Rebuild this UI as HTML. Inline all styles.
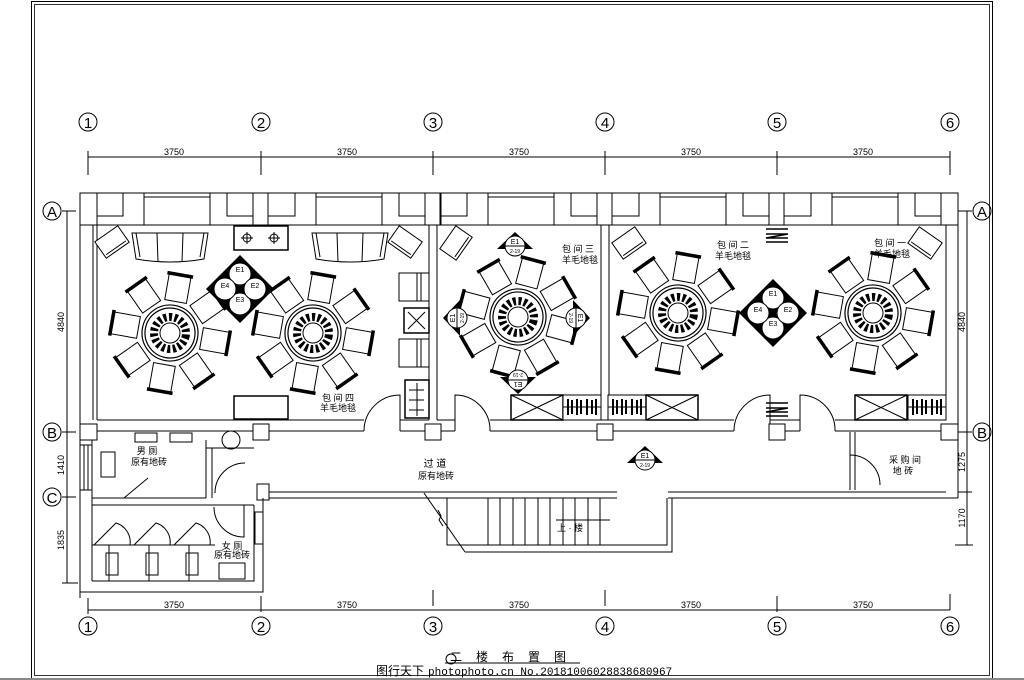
<!DOCTYPE html>
<html><head><meta charset="utf-8"><style>
html,body{margin:0;padding:0;background:#fff;}
svg{display:block;font-family:"Liberation Sans","Noto Sans CJK SC",sans-serif;}
</style></head><body>
<svg width="1024" height="680" viewBox="0 0 1024 680" xmlns="http://www.w3.org/2000/svg">
<defs>
<g id="chair">
 <rect x="-11" y="-58" width="22" height="26" fill="#fff" stroke="#000" stroke-width="1"/>
 <line x1="-13" y1="-59" x2="13" y2="-59" stroke="#000" stroke-width="3.5"/>
</g>
<g id="tbl">
 <use href="#chair" transform="rotate(0)"/><use href="#chair" transform="rotate(45)"/>
 <use href="#chair" transform="rotate(90)"/><use href="#chair" transform="rotate(135)"/>
 <use href="#chair" transform="rotate(180)"/><use href="#chair" transform="rotate(225)"/>
 <use href="#chair" transform="rotate(270)"/><use href="#chair" transform="rotate(315)"/>
 <circle r="28" fill="#fff" stroke="#000" stroke-width="1.2"/>
 <circle r="25" fill="none" stroke="#000" stroke-width="1.2"/>
 <circle r="16" fill="none" stroke="#000" stroke-width="8" stroke-dasharray="3 2.5"/>
 <circle r="10" fill="#fff" stroke="#000" stroke-width="1"/>
</g>
<g id="dia">
 <polygon points="0,-34 34,0 0,34 -34,0" fill="#000"/>
 <circle cx="0" cy="-15" r="11" fill="#fff" stroke="#000"/>
 <circle cx="0" cy="15" r="11" fill="#fff" stroke="#000"/>
 <circle cx="-15" cy="0" r="11" fill="#fff" stroke="#000"/>
 <circle cx="15" cy="0" r="11" fill="#fff" stroke="#000"/>
 <text x="0" y="-17" font-size="7" text-anchor="middle">E1</text>
 <text x="0" y="13" font-size="7" text-anchor="middle">E3</text>
 <text x="-15" y="-1" font-size="7" text-anchor="middle">E4</text>
 <text x="15" y="-1" font-size="7" text-anchor="middle">E2</text>
</g>
<g id="tri">
 <polygon points="0,-14 18,3 -18,3" fill="#000"/>
 <circle r="10" fill="#fff" stroke="#000"/>
 <line x1="-10" y1="0" x2="10" y2="0" stroke="#000"/>
 <text x="0" y="-2" font-size="7" text-anchor="middle">E1</text>
 <text x="0" y="7" font-size="5" text-anchor="middle">2-19</text>
</g>
<g id="armchair">
 <rect x="-14" y="-10" width="28" height="20" fill="#fff" stroke="#000"/>
 <line x1="-12" y1="7" x2="12" y2="7" stroke="#000"/>
</g>
<g id="sofa">
 <path d="M-38,-12 L38,-12 L34,14 Q0,20 -34,14 Z" fill="#fff" stroke="#000"/>
 <line x1="-13" y1="-12" x2="-12" y2="17" stroke="#000"/>
 <line x1="13" y1="-12" x2="12" y2="17" stroke="#000"/>
 <path d="M-34,-12 L-30,12 M34,-12 L30,12" stroke="#000" fill="none"/>
</g>
<g id="cab">
 <rect x="0" y="0" width="52" height="25" fill="#fff" stroke="#000" stroke-width="1.5"/>
 <path d="M0,0 L52,25 M52,0 L0,25" stroke="#000"/>
</g>
<g id="hang">
 <rect x="0" y="0" width="38" height="25" fill="#fff" stroke="#000"/>
 <line x1="0" y1="12" x2="38" y2="12" stroke="#000"/>
 <path d="M5,4v16M9,5v14M14,4v16M18,5v14M24,4v16M29,5v14M33,4v16" stroke="#000" stroke-width="2"/>
</g>
</defs>

<g fill="none" stroke="#000" stroke-width="1">
<rect x="31.5" y="1.5" width="961" height="677"/>
<rect x="34.5" y="4.5" width="955" height="671" stroke-width="0.8"/>
<g font-size="15">
<circle cx="88" cy="122" r="9"/><circle cx="261" cy="122" r="9"/><circle cx="433" cy="122" r="9"/>
<circle cx="605" cy="122" r="9"/><circle cx="777" cy="122" r="9"/><circle cx="950" cy="122" r="9"/>
<circle cx="88" cy="626" r="9"/><circle cx="261" cy="626" r="9"/><circle cx="433" cy="626" r="9"/>
<circle cx="605" cy="626" r="9"/><circle cx="777" cy="626" r="9"/><circle cx="950" cy="626" r="9"/>
<circle cx="52" cy="211" r="9"/><circle cx="52" cy="432" r="9"/><circle cx="52" cy="497" r="9"/>
<circle cx="982" cy="211" r="9"/><circle cx="982" cy="432" r="9"/>
</g>
<line x1="88" y1="157" x2="950" y2="157"/>
<path d="M88,151v24M261,151v24M433,151v24M605,151v24M777,151v24M950,151v24"/>
<line x1="88" y1="610" x2="950" y2="610"/>
<path d="M88,598v16M261,596v16M433,590v16M605,590v16M777,596v16M950,594v16"/>
<line x1="67" y1="211" x2="67" y2="583"/>
<path d="M62,211h14M62,432h14M62,497h14M62,583h16"/>
<line x1="967" y1="211" x2="967" y2="545"/>
<path d="M958,211h14M958,432h14M958,492h14M955,545h18"/>
<line x1="80" y1="193" x2="958" y2="193"/>
<line x1="97" y1="225" x2="946" y2="225"/>
<line x1="80" y1="193" x2="80" y2="598"/>
<line x1="958" y1="193" x2="958" y2="498"/>
<line x1="946" y1="225" x2="946" y2="420"/>
<line x1="93" y1="225" x2="93" y2="420"/>
<line x1="97" y1="225" x2="97" y2="420"/>
</g>

<g fill="#fff" stroke="#000" stroke-width="1">
<g>
 <rect x="80" y="193" width="17" height="32"/>
 <rect x="97" y="193" width="26" height="23"/>
 <rect x="144" y="193" width="66" height="32"/>
 <rect x="227" y="193" width="26" height="23"/>
</g>
<rect x="253" y="193" width="15" height="32"/>
<g transform="translate(172,0)"><rect x="96" y="193" width="27" height="23"/><rect x="144" y="193" width="66" height="32"/><rect x="227" y="193" width="26" height="23"/><rect x="253" y="193" width="15" height="32"/></g>
<g transform="translate(344,0)"><rect x="96" y="193" width="27" height="23"/><rect x="144" y="193" width="66" height="32"/><rect x="227" y="193" width="26" height="23"/><rect x="253" y="193" width="15" height="32"/></g>
<g transform="translate(516,0)"><rect x="96" y="193" width="27" height="23"/><rect x="144" y="193" width="66" height="32"/><rect x="227" y="193" width="26" height="23"/><rect x="253" y="193" width="15" height="32"/></g>
<g transform="translate(688,0)"><rect x="96" y="193" width="27" height="23"/><rect x="144" y="193" width="66" height="32"/><rect x="227" y="193" width="26" height="23"/></g>
<rect x="941" y="193" width="17" height="32"/>
</g>
<g stroke="#000" stroke-width="1" fill="none">
<path d="M144,197h66M316,197h66M488,197h66M660,197h66M832,197h66"/>
<path d="M425,193v32M441,193v32"/>
<path d="M429,225v195M437,225v195M601,225v195M609,225v195"/>
<path d="M97,420H364M400,420H429M437,420H455M490,420H734M770,420H800M835,420H946"/>
<path d="M80,431H364M400,431H455M490,431H734M770,431H800M835,431H958"/>
<path d="M364,431 A36,36 0 0 1 400,395 V431"/>
<path d="M455,431 V395 A35,35 0 0 1 490,431"/>
<path d="M734,431 A36,36 0 0 1 770,395 V431"/>
<path d="M800,431 V395 A35,35 0 0 1 835,431"/>
<path d="M263,492H617M668,492H946M263,498H617M668,498H958"/>
<path d="M850,432V490M855,432V490"/>
<path d="M850,455 A30,30 0 0 1 880,485 M850,455V490"/>
</g>
<g fill="#fff" stroke="#000">
<rect x="425" y="424" width="16" height="16"/><rect x="597" y="424" width="16" height="16"/>
<rect x="769" y="424" width="16" height="16"/><rect x="253" y="424" width="16" height="16"/>
<rect x="941" y="424" width="17" height="16"/><rect x="80" y="424" width="17" height="16"/>
<rect x="257" y="484" width="12" height="16"/>
</g>

<g stroke="#000" fill="none">
<path d="M447,498V545H667V498"/>
<path d="M465,552H672V498"/>
<path d="M424,493L465,552"/>
<path d="M438,510l3,6l-2,4l4,6"/>
<path d="M488,498v47M500,498v47M513,498v47M525,498v47M538,498v47M550,498v47M563,498v47M575,498v47M588,498v47M600,498v47"/>
<path d="M556,520H610"/>
</g>
<text x="570" y="531" font-size="9" text-anchor="middle">上 · 楼</text>

<g stroke="#000" fill="none">
<path d="M80,592H263V498"/>
<path d="M92,581H254V505"/>
<path d="M92,440V581"/>
<path d="M92,498H206M92,505H254"/>
<path d="M206,440V498M212,448V498"/>
<path d="M206,448H254"/>
<rect x="80" y="445" width="12" height="45" fill="#fff"/>
<path d="M84,445v45M88,445v45"/>
<rect x="101" y="452" width="14" height="25"/>
<rect x="135" y="433" width="22" height="9"/><rect x="170" y="433" width="22" height="9"/>
<circle cx="231" cy="440" r="9"/>
<path d="M124,498L148,478M215,493 A30,30 0 0 1 245,463"/>
<path d="M109,545V581M149,545V581M189,545V581"/>
<path d="M92,545H215"/>
<path d="M94,545L116,523A20,20 0 0 1 130,545 M134,545L156,523A20,20 0 0 1 170,545 M174,545L196,523A20,20 0 0 1 210,545"/>
<rect x="106" y="553" width="12" height="22"/><rect x="146" y="553" width="12" height="22"/><rect x="186" y="553" width="12" height="22"/>
<rect x="219" y="563" width="26" height="16"/>
<path d="M214,507A30,30 0 0 0 244,537V505"/>
<rect x="255" y="512" width="8" height="32"/>
</g>
<text x="147" y="454" font-size="9" text-anchor="middle">男 厕</text>
<text x="149" y="465" font-size="9" text-anchor="middle">原有地砖</text>
<text x="232" y="549" font-size="9" text-anchor="middle">女 厕</text>
<text x="232" y="558" font-size="9" text-anchor="middle">原有地砖</text>

<use href="#armchair" transform="translate(112,242) rotate(-35)"/>
<use href="#sofa" transform="translate(170,245)"/>
<use href="#sofa" transform="translate(350,245)"/>
<use href="#armchair" transform="translate(405,242) rotate(35)"/>
<rect x="234" y="226" width="54" height="24" fill="#fff" stroke="#000" stroke-width="1.5"/>
<g stroke="#000" fill="none"><circle cx="247" cy="238" r="4"/><circle cx="274" cy="238" r="4"/><path d="M241,238h12M247,232v12M268,238h12M274,232v12"/></g>
<rect x="234" y="396" width="54" height="23" fill="#fff" stroke="#000" stroke-width="1.5"/>
<use href="#tbl" transform="translate(170,333) rotate(10)"/>
<use href="#tbl" transform="translate(313,333) rotate(10)"/>
<use href="#dia" transform="translate(240,289)"/>
<g fill="#fff" stroke="#000">
<rect x="399" y="273" width="30" height="28"/><rect x="399" y="339" width="30" height="28"/>
<rect x="404" y="308" width="25" height="25" stroke-width="1.5"/>
<rect x="405" y="380" width="24" height="38" stroke-width="1.5"/>
</g>
<g stroke="#000"><path d="M417,273v28M421,273v28M417,339v28M421,339v28M408,312l17,17M425,312l-17,17M409,390h15M409,400h15M409,410h15M417,383v33"/></g>
<text x="338" y="401" font-size="9" text-anchor="middle">包 间 四</text>
<text x="338" y="411" font-size="9" text-anchor="middle">羊毛地毯</text>

<use href="#armchair" transform="translate(456,243) rotate(-55)"/>
<use href="#tbl" transform="translate(518,317) rotate(15)"/>
<use href="#tri" transform="translate(515,246)"/>
<use href="#tri" transform="translate(457,318) rotate(-90)"/>
<use href="#tri" transform="translate(576,318) rotate(90)"/>
<use href="#tri" transform="translate(518,380) rotate(180)"/>
<use href="#cab" transform="translate(511,395)"/>
<use href="#hang" transform="translate(563,395)"/>
<text x="578" y="252" font-size="9" text-anchor="middle">包 间 三</text>
<text x="580" y="263" font-size="9" text-anchor="middle">羊毛地毯</text>

<use href="#armchair" transform="translate(629,243) rotate(-35)"/>
<use href="#tbl" transform="translate(678,313) rotate(10)"/>
<use href="#dia" transform="translate(773,313)"/>
<use href="#tbl" transform="translate(873,313) rotate(10)"/>
<use href="#armchair" transform="translate(925,243) rotate(35)"/>
<use href="#hang" transform="translate(608,395)"/>
<use href="#cab" transform="translate(646,395)"/>
<use href="#cab" transform="translate(855,395)"/>
<use href="#hang" transform="translate(908,395)"/>
<text x="733" y="248" font-size="9" text-anchor="middle">包 间 二</text>
<text x="733" y="259" font-size="9" text-anchor="middle">羊毛地毯</text>
<text x="890" y="246" font-size="9" text-anchor="middle">包 间 一</text>
<text x="892" y="257" font-size="9" text-anchor="middle">羊毛地毯</text>
<g stroke="#000" stroke-width="1.5" fill="none"><path d="M766,229h22M766,234h22l-22,4h22M766,242h22"/><path d="M766,403h22M766,408h22l-22,4h22M766,416h22"/></g>

<use href="#tri" transform="translate(645,460)"/>
<text x="435" y="467" font-size="10" text-anchor="middle">过 道</text>
<text x="436" y="479" font-size="9" text-anchor="middle">原有地砖</text>
<text x="905" y="463" font-size="9" text-anchor="middle">采 购 间</text>
<text x="903" y="474" font-size="9" text-anchor="middle">地 砖</text>

<g font-size="15" text-anchor="middle" font-family="Liberation Sans, sans-serif">
<text x="88" y="128">1</text><text x="261" y="128">2</text><text x="433" y="128">3</text>
<text x="605" y="128">4</text><text x="777" y="128">5</text><text x="950" y="128">6</text>
<text x="88" y="632">1</text><text x="261" y="632">2</text><text x="433" y="632">3</text>
<text x="605" y="632">4</text><text x="777" y="632">5</text><text x="950" y="632">6</text>
<text x="52" y="217">A</text><text x="52" y="438">B</text><text x="52" y="503">C</text>
<text x="982" y="217">A</text><text x="982" y="438">B</text>
</g>
<g font-size="9" text-anchor="middle" font-family="Liberation Sans Narrow, Liberation Sans, sans-serif">
<text x="174" y="155">3750</text><text x="347" y="155">3750</text><text x="519" y="155">3750</text>
<text x="691" y="155">3750</text><text x="863" y="155">3750</text>
<text x="174" y="608">3750</text><text x="347" y="608">3750</text><text x="519" y="608">3750</text>
<text x="691" y="608">3750</text><text x="863" y="608">3750</text>
<text transform="translate(64,322) rotate(-90)">4840</text>
<text transform="translate(64,465) rotate(-90)">1410</text>
<text transform="translate(64,540) rotate(-90)">1835</text>
<text transform="translate(965,322) rotate(-90)">4840</text>
<text transform="translate(965,462) rotate(-90)">1275</text>
<text transform="translate(965,518) rotate(-90)">1170</text>
</g>

<circle cx="451" cy="659" r="5" fill="none" stroke="#000"/>
<text x="515" y="661" font-size="12" text-anchor="middle" letter-spacing="14">二楼布置图</text>
<line x1="445" y1="663" x2="580" y2="663" stroke="#000"/>
<text x="376" y="675" font-size="12">图行天下</text>
<text x="428" y="675" font-size="11" font-family="Liberation Mono, monospace">photophoto.cn  No.20181006028838680967</text>
<line x1="0" y1="679" x2="1024" y2="679" stroke="#888" stroke-width="2"/>
</svg>
</body></html>
